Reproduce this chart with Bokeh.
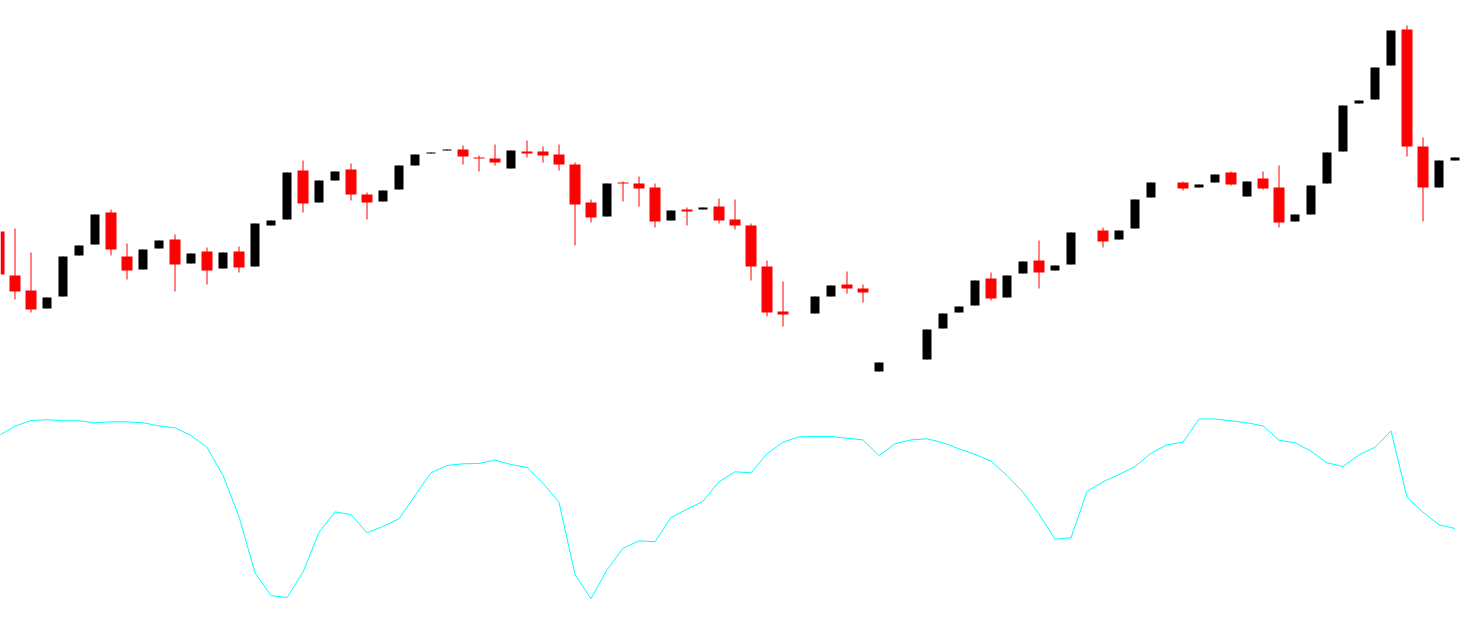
from bokeh.plotting import figure
from bokeh.models import Range1d, ColumnDataSource
from bokeh.embed import file_html
from bokeh.resources import INLINE

# bar index
bars = list(range(92))

# price data (open, high, low, close); dojis with equal values are invisible
opens = [189, 145, 130, 112, 124, 165, 176, 208, 164, 151, 172, 181, 157, 169, 152, 169,
         154, 195, 201, 250, 218, 240, 251, 226, 219, 231, 255, 267, 270, 271, 263, 262,
         252, 269, 269, 266, 256, 218, 204, 238, 237, 233, 200, 211, 211, 214, 201, 195,
         154, 109, 107, 107, 124, 136, 132, 49, 60, 61, 61, 92, 108, 115, 142, 123,
         147, 160, 150, 156, 189, 190, 181, 192, 223, 238, 238, 233, 238, 248, 224, 242,
         233, 199, 206, 237, 269, 317, 321, 355, 391, 274, 233, 260]
highs = [192, 192, 168, 123, 164, 175, 206, 211, 177, 171, 180, 186, 167, 173, 168, 174,
         197, 200, 248, 260, 240, 249, 257, 228, 230, 255, 266, 268, 271, 275, 265, 276,
         270, 280, 274, 276, 258, 221, 237, 239, 244, 237, 210, 213, 213, 222, 221, 197,
         160, 139, 107, 124, 135, 149, 136, 58, 60, 61, 91, 107, 114, 140, 148, 145,
         159, 180, 155, 188, 189, 193, 190, 221, 238, 238, 239, 236, 246, 249, 239, 249,
         255, 206, 235, 268, 315, 320, 353, 390, 395, 283, 260, 263]
lows = [142, 121, 108, 112, 124, 165, 176, 165, 141, 151, 172, 129, 157, 136, 152, 148,
        154, 195, 201, 208, 218, 240, 220, 201, 219, 231, 255, 267, 270, 256, 249, 255,
        252, 263, 258, 250, 175, 198, 204, 219, 214, 193, 200, 195, 211, 197, 191, 140,
        104, 94, 107, 107, 124, 127, 118, 49, 60, 61, 61, 92, 108, 115, 120, 123,
        147, 132, 150, 156, 189, 173, 181, 192, 223, 238, 230, 233, 238, 235, 224, 231,
        193, 199, 206, 237, 269, 317, 321, 355, 264, 199, 233, 260]
closes = [146, 129, 111, 123, 164, 175, 206, 171, 150, 171, 180, 156, 167, 150, 168, 153,
          197, 200, 248, 217, 240, 249, 226, 218, 230, 255, 266, 268, 271, 264, 262, 258,
          270, 267, 265, 256, 216, 203, 237, 237, 232, 199, 210, 209, 213, 200, 195, 154,
          108, 106, 107, 124, 135, 132, 128, 58, 60, 61, 91, 107, 114, 140, 122, 145,
          159, 148, 155, 188, 189, 179, 190, 221, 238, 238, 232, 236, 246, 236, 239, 232,
          198, 206, 235, 268, 315, 320, 353, 390, 274, 233, 260, 263]

# oscillator (0-100)
osc = [90.8, 96.0, 99.2, 99.6, 99.0, 99.0, 97.9, 98.4, 98.4, 97.9, 96.2, 95.1, 90.8, 84.3, 68.6, 45.8,
       14.6, 1.9, 0.8, 14.9, 37.1, 48.4, 46.9, 36.8, 40.3, 44.6, 57.5, 70.1, 74.2, 75.1, 75.3, 77.2,
       74.7, 73.1, 64.3, 53.8, 13.6, 0.1, 16.2, 28.2, 32.3, 31.8, 45.3, 49.9, 54.3, 65.1, 70.7, 70.1,
       80.7, 87.1, 90.1, 90.3, 90.3, 89.3, 88.4, 79.7, 86.2, 88.4, 89.0, 86.8, 83.4, 80.4, 76.6, 68.6,
       59.3, 47.3, 33.2, 34.0, 59.7, 65.1, 69.2, 73.6, 81.0, 85.7, 87.1, 100.0, 100.0, 99.0, 97.9, 96.2,
       88.2, 86.8, 82.1, 75.7, 73.6, 80.1, 84.3, 93.4, 56.6, 48.2, 41.2, 39.2]

UP = "#000000"
DOWN = "#FF0000"
CYAN = "#00FFFF"

colors = [UP if c >= o else DOWN for o, c in zip(opens, closes)]
widths = [9 / 16 if c >= o else 11 / 16 for o, c in zip(opens, closes)]
tops = [max(o, c) for o, c in zip(opens, closes)]
bottoms = [min(o, c) for o, c in zip(opens, closes)]

src = ColumnDataSource(dict(x=bars, o=opens, h=highs, l=lows, c=closes,
                            top=tops, bottom=bottoms, color=colors, w=widths))

p = figure(width=1473, height=615,
           x_range=Range1d(0.09375, 92.15625), y_range=Range1d(-195, 420),
           output_backend="svg", toolbar_location=None,
           x_axis_type=None, y_axis_type=None, min_border=0)
p.grid.visible = False
p.outline_line_color = None
p.background_fill_color = "white"
p.border_fill_color = "white"

p.extra_y_ranges = {"osc": Range1d(-9.1667, 332.5)}

p.segment(x0="x", y0="h", x1="x", y1="l", color="color", line_width=1, source=src)
p.vbar(x="x", width="w", top="top", bottom="bottom", fill_color="color",
       line_color=None, source=src)

p.line(bars, osc, line_color=CYAN, line_width=1, y_range_name="osc")

open("out.html", "w").write(file_html(p, INLINE))
